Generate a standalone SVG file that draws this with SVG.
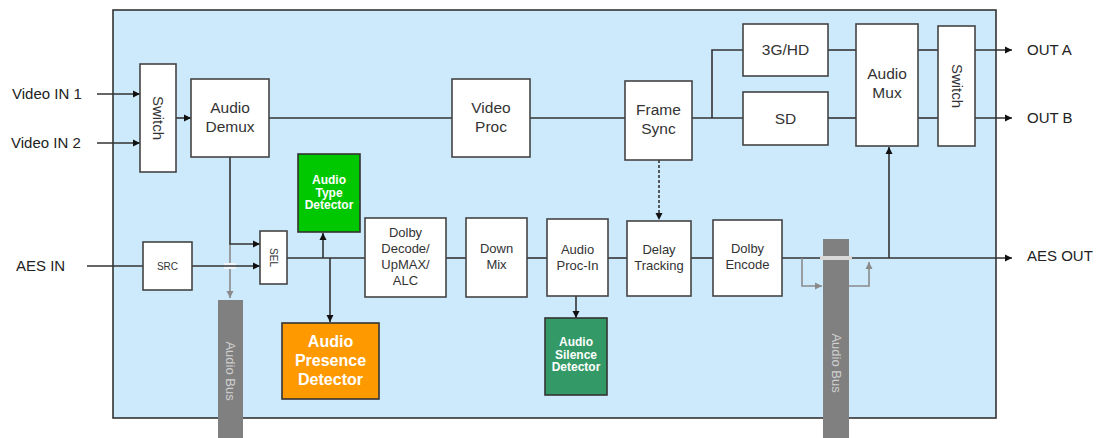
<svg xmlns="http://www.w3.org/2000/svg" width="1100" height="438" viewBox="0 0 1100 438">
<style>
.bx{fill:#fff;stroke:#444;stroke-width:1.6}
.t{font-family:"Liberation Sans",Arial,sans-serif;fill:#333;text-anchor:middle}
.o{font-family:"Liberation Sans",Arial,sans-serif;fill:#222;font-size:15px}
.w{font-family:"Liberation Sans",Arial,sans-serif;fill:#fff;font-weight:bold;text-anchor:middle}
.ln{fill:none;stroke:#333;stroke-width:1.6}
.ar{marker-end:url(#ah)}
.gl{fill:none;stroke:#8a8a8a;stroke-width:1.6}
.bus{fill:#808080}
.bl{font-family:"Liberation Sans",Arial,sans-serif;fill:#d0d0d0;font-size:13px;text-anchor:middle}
</style>
<defs>
<marker id="ah" markerUnits="userSpaceOnUse" markerWidth="8" markerHeight="8" refX="7" refY="4" orient="auto"><path d="M0,0.5 L7,4 L0,7.5 Z" fill="#111"/></marker>
<marker id="ahg" markerUnits="userSpaceOnUse" markerWidth="8" markerHeight="8" refX="7" refY="4" orient="auto"><path d="M0,0.5 L7,4 L0,7.5 Z" fill="#8a8a8a"/></marker>
</defs>
<rect x="0" y="0" width="1100" height="438" fill="#fff"/>
<rect id="frame" x="113" y="10" width="883" height="408" fill="#cdeafc" stroke="#333" stroke-width="1.6"/>

<g id="labels">
<text class="o" x="12" y="99">Video IN 1</text>
<text class="o" x="11" y="148">Video IN 2</text>
<text class="o" x="16" y="271">AES IN</text>
<text class="o" x="1027" y="55">OUT A</text>
<text class="o" x="1027" y="123">OUT B</text>
<text class="o" x="1027" y="261">AES OUT</text>
</g>

<g id="connectors">
<path class="ln ar" d="M97,94 H140"/>
<path class="ln ar" d="M97,143 H140"/>
<path class="ln ar" d="M176,118 H191"/>
<path class="ln" d="M269,118 H452"/>
<path class="ln" d="M530,118 H625"/>
<path class="ln" d="M692,118 H743"/>
<path class="ln" d="M712,118 V50 H743"/>
<path class="ln" d="M828,50 H856"/>
<path class="ln" d="M828,118 H856"/>
<path class="ln" d="M918,50 H938"/>
<path class="ln" d="M918,118 H938"/>
<path class="ln ar" d="M975,50 H1012"/>
<path class="ln ar" d="M975,118 H1012"/>
<path class="ln ar" d="M659,160 V220" stroke-dasharray="3,2"/>
<path class="gl" d="M230,244 V298" marker-end="url(#ahg)"/>
<rect x="224" y="263" width="12" height="6" fill="#eef6fb"/>
<path class="ln ar" d="M230,157 V244 H260"/>
<path class="ln" d="M87,266 H143"/>
<path class="ln ar" d="M192,266 H260"/>
<path class="ln" d="M287,258 H365"/>
<path class="ln ar" d="M323,258 V233"/>
<path class="ln ar" d="M330,258 V322"/>
<path class="ln" d="M446,258 H466"/>
<path class="ln" d="M527,258 H547"/>
<path class="ln" d="M608,258 H627"/>
<path class="ln" d="M691,258 H713"/>
<path class="ln ar" d="M576,296 V318"/>
<path class="ln ar" d="M782,258 H1012"/>
<path class="ln ar" d="M889,258 V147"/>
<path class="gl" d="M802,258 V286 H822" marker-end="url(#ahg)"/>
<path class="gl" d="M849,286 H869 V262" marker-end="url(#ahg)"/>
</g>

<g id="bus-left"><rect class="bus" x="218" y="300" width="25" height="138"/><text class="bl" transform="translate(226,371) rotate(90)">Audio Bus</text></g>
<g id="bus-right"><rect class="bus" x="823" y="239" width="26" height="199"/><rect x="820" y="256" width="32" height="4" fill="#d8d8d8"/><text class="bl" transform="translate(832,363) rotate(90)">Audio Bus</text></g>

<g id="switch-in"><rect class="bx" x="140" y="64" width="36" height="108"/><text class="t" font-size="15" transform="translate(153,118) rotate(90)">Switch</text></g>
<g id="audio-demux"><rect class="bx" x="191" y="79" width="78" height="78"/><text class="t" font-size="15.5" x="230" y="113">Audio</text><text class="t" font-size="15.5" x="230" y="132">Demux</text></g>
<g id="video-proc"><rect class="bx" x="452" y="79" width="78" height="78"/><text class="t" font-size="15.5" x="491" y="113">Video</text><text class="t" font-size="15.5" x="491" y="132">Proc</text></g>
<g id="frame-sync"><rect class="bx" x="625" y="81" width="67" height="79"/><text class="t" font-size="15.5" x="658.5" y="115">Frame</text><text class="t" font-size="15.5" x="658.5" y="134">Sync</text></g>
<g id="hd"><rect class="bx" x="743" y="24" width="85" height="52"/><text class="t" font-size="15.5" x="785.5" y="55">3G/HD</text></g>
<g id="sd"><rect class="bx" x="743" y="92" width="85" height="53"/><text class="t" font-size="15.5" x="785.5" y="124">SD</text></g>
<g id="audio-mux"><rect class="bx" x="856" y="24" width="62" height="122"/><text class="t" font-size="15.5" x="887" y="79">Audio</text><text class="t" font-size="15.5" x="887" y="98">Mux</text></g>
<g id="switch-out"><rect class="bx" x="938" y="26" width="37" height="120"/><text class="t" font-size="15" transform="translate(951.5,86) rotate(90)">Switch</text></g>

<g id="type-detector"><rect x="298" y="154" width="62" height="78" fill="#00c800" stroke="#333" stroke-width="1.6"/><text class="w" font-size="12" x="329" y="184">Audio</text><text class="w" font-size="12" x="329" y="196.5">Type</text><text class="w" font-size="12" x="329" y="209">Detector</text></g>
<g id="src"><rect class="bx" x="143" y="242" width="49" height="48"/><text class="t" font-size="10" x="167.5" y="269.5">SRC</text></g>
<g id="sel"><rect class="bx" x="260" y="231" width="27" height="53"/><text class="t" font-size="10" transform="translate(270,257.5) rotate(90)">SEL</text></g>
<g id="presence-detector"><rect x="282" y="323" width="97" height="76" fill="#ff9900" stroke="#333" stroke-width="1.6"/><text class="w" font-size="16" x="330.5" y="347">Audio</text><text class="w" font-size="16" x="330.5" y="366">Presence</text><text class="w" font-size="16" x="330.5" y="385">Detector</text></g>
<g id="dolby-decode"><rect class="bx" x="365" y="218" width="81" height="79"/><text class="t" font-size="13" x="405.5" y="237">Dolby</text><text class="t" font-size="13" x="405.5" y="253">Decode/</text><text class="t" font-size="13" x="405.5" y="269">UpMAX/</text><text class="t" font-size="13" x="405.5" y="285">ALC</text></g>
<g id="down-mix"><rect class="bx" x="466" y="218" width="61" height="79"/><text class="t" font-size="13" x="496.5" y="253">Down</text><text class="t" font-size="13" x="496.5" y="269">Mix</text></g>
<g id="audio-proc"><rect class="bx" x="547" y="219" width="61" height="77"/><text class="t" font-size="13" x="577.5" y="254">Audio</text><text class="t" font-size="13" x="577.5" y="270">Proc-In</text></g>
<g id="delay-tracking"><rect class="bx" x="627" y="221" width="64" height="75"/><text class="t" font-size="13" x="659" y="254">Delay</text><text class="t" font-size="13" x="659" y="270">Tracking</text></g>
<g id="dolby-encode"><rect class="bx" x="713" y="220" width="69" height="76"/><text class="t" font-size="13" x="747.5" y="253">Dolby</text><text class="t" font-size="13" x="747.5" y="269">Encode</text></g>
<g id="silence-detector"><rect x="545" y="318" width="62" height="77" fill="#339966" stroke="#333" stroke-width="1.6"/><text class="w" font-size="12" x="576" y="346">Audio</text><text class="w" font-size="12" x="576" y="358.5">Silence</text><text class="w" font-size="12" x="576" y="371">Detector</text></g>
</svg>
